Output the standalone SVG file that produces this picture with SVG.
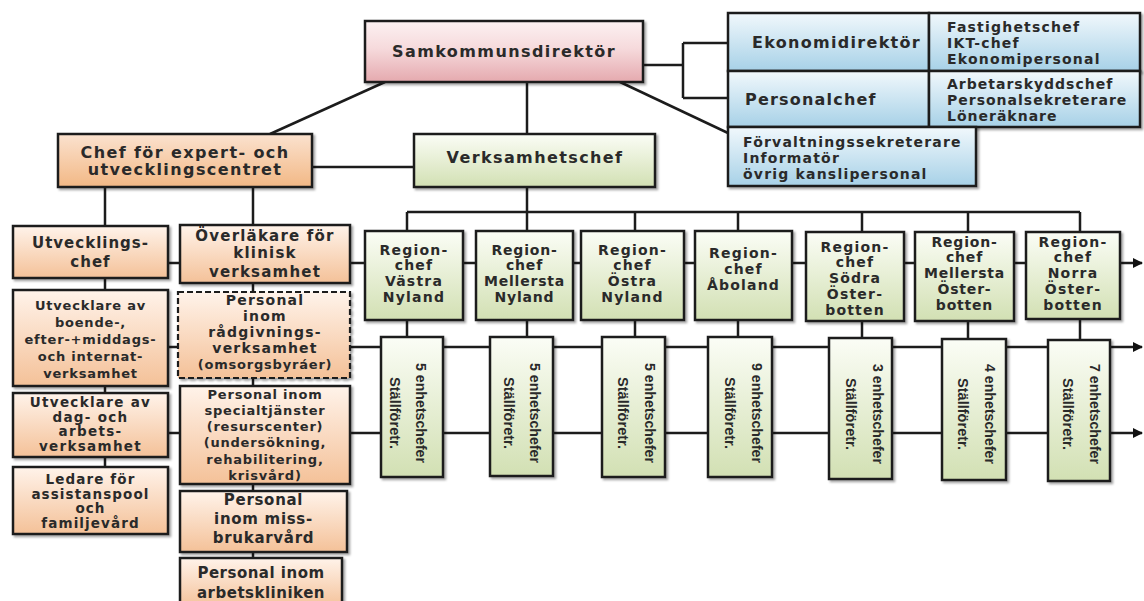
<svg xmlns="http://www.w3.org/2000/svg" width="1144" height="601" viewBox="0 0 1144 601">
<defs>
<linearGradient id="gPink" x1="0" y1="0" x2="0" y2="1"><stop offset="0" stop-color="#fcf1f2"/><stop offset="0.45" stop-color="#f6dadc"/><stop offset="1" stop-color="#e5a9ae"/></linearGradient>
<linearGradient id="gOr" x1="0" y1="0" x2="0" y2="1"><stop offset="0" stop-color="#fff3ea"/><stop offset="1" stop-color="#f4c198"/></linearGradient>
<linearGradient id="gOr2" x1="0" y1="0" x2="0" y2="1"><stop offset="0" stop-color="#fbe2cf"/><stop offset="1" stop-color="#f2b885"/></linearGradient>
<linearGradient id="gGr" x1="0" y1="0" x2="0" y2="1"><stop offset="0" stop-color="#fbfdf6"/><stop offset="1" stop-color="#d2e0b3"/></linearGradient>
<linearGradient id="gBl" x1="0" y1="0" x2="0" y2="1"><stop offset="0" stop-color="#f1f8fc"/><stop offset="1" stop-color="#a7d1e7"/></linearGradient>
<filter id="sh" x="-10%" y="-10%" width="125%" height="125%"><feDropShadow dx="2" dy="2" stdDeviation="1.2" flood-color="#000" flood-opacity="0.35"/></filter>
<marker id="arr" viewBox="0 0 10 10" refX="9" refY="5" markerWidth="10" markerHeight="10" markerUnits="userSpaceOnUse" orient="auto"><path d="M0,0 L10,5 L0,10 z" fill="#111"/></marker>
</defs>
<style>
.box{stroke:#1c1c1c;stroke-width:2.5;filter:url(#sh)}
.pink{fill:url(#gPink)}
.or{fill:url(#gOr)}
.or2{fill:url(#gOr2)}
.gr{fill:url(#gGr)}
.bl{fill:url(#gBl)}
.dash{stroke-dasharray:6 3;stroke-width:2.2}
.ln{fill:none;stroke:#1c1c1c;stroke-width:2.5}
text{font-family:"DejaVu Sans","Verdana",sans-serif;font-weight:bold;fill:#2a2a2a}
.c{text-anchor:middle}
.t16{font-size:16px;letter-spacing:1.4px}
.t15{font-size:15px;letter-spacing:1px}
.t15n{font-size:15px;letter-spacing:0.7px}
.t135{font-size:13.5px;letter-spacing:1.3px}
.t14{font-size:14px;letter-spacing:1.2px}
.t13{font-size:13px;letter-spacing:0.8px}
.rot{font-family:"Liberation Sans","Arial",sans-serif;font-size:15px;letter-spacing:0;text-anchor:middle}
</style>

<g id="connectors">
<path class="ln" d="M643,65 H683 M683,43 V98 M683,43 H728 M683,98 H728"/>
<path class="ln" d="M620,82 L728,133"/>
<path class="ln" d="M385,82 L270,134"/>
<path class="ln" d="M527,82 V337"/>
<path class="ln" d="M312,167 H414"/>
<path class="ln" d="M407,212 H1080"/>
<path class="ln" d="M407,212 V337 M635,212 V337 M738,212 V337 M862,212 V338 M968,212 V339 M1080,212 V340"/>
<path class="ln" d="M105,187 V467"/>
<path class="ln" d="M253,187 V558"/>
<path class="ln" d="M168,263 H1142" marker-end="url(#arr)"/>
<path class="ln" d="M168,347 H1142" marker-end="url(#arr)"/>
<path class="ln" d="M168,433 H1142" marker-end="url(#arr)"/>
</g>

<g id="n-samkommunsdirektor">
<rect class="box pink" x="365" y="21" width="278" height="61"/>
<text class="c t16" x="504" y="57">Samkommunsdirektör</text>
</g>

<g id="n-ekonomidirektor">
<rect class="box bl" x="728" y="13" width="201" height="58"/>
<rect class="box bl" x="929" y="13" width="211" height="58"/>
<text class="t16" x="752" y="48" style="letter-spacing:1.3px">Ekonomidirektör</text>
<text class="t14" x="947"><tspan x="947" y="32">Fastighetschef</tspan><tspan x="947" y="48">IKT-chef</tspan><tspan x="947" y="64">Ekonomipersonal</tspan></text>
</g>

<g id="n-personalchef">
<rect class="box bl" x="728" y="71" width="201" height="56"/>
<rect class="box bl" x="929" y="71" width="211" height="56"/>
<text class="t16" x="745" y="105" style="letter-spacing:1.2px">Personalchef</text>
<text class="t14" x="947" style="letter-spacing:1px"><tspan x="947" y="89">Arbetarskyddschef</tspan><tspan x="947" y="105">Personalsekreterare</tspan><tspan x="947" y="121">Löneräknare</tspan></text>
</g>

<g id="n-forvaltning">
<rect class="box bl" x="728" y="127" width="248" height="59"/>
<text class="t14" x="743"><tspan x="743" y="147">Förvaltningssekreterare</tspan><tspan x="743" y="163">Informatör</tspan><tspan x="743" y="179">övrig kanslipersonal</tspan></text>
</g>

<g id="n-chef-expert">
<rect class="box or2" x="58" y="134" width="254" height="53"/>
<text class="c t16" x="185"><tspan x="185" y="158">Chef för expert- och</tspan><tspan x="185" y="175">utvecklingscentret</tspan></text>
</g>

<g id="n-verksamhetschef">
<rect class="box gr" x="414" y="134" width="241" height="53"/>
<text class="c t16" x="535" y="163">Verksamhetschef</text>
</g>

<g id="n-utvecklingschef">
<rect class="box or" x="13" y="226" width="155" height="52"/>
<text class="c t15" x="90.5"><tspan x="90.5" y="248">Utvecklings-</tspan><tspan x="90.5" y="267">chef</tspan></text>
</g>

<g id="n-utv-boende">
<rect class="box or" x="13" y="290" width="155" height="96"/>
<text class="c t13" x="90.5"><tspan x="90.5" y="310">Utvecklare av</tspan><tspan x="90.5" y="327">boende-,</tspan><tspan x="90.5" y="344">efter-+middags-</tspan><tspan x="90.5" y="361">och internat-</tspan><tspan x="90.5" y="378">verksamhet</tspan></text>
</g>

<g id="n-utv-dag">
<rect class="box or" x="13" y="393" width="155" height="64"/>
<text class="c t135" x="90.5"><tspan x="90.5" y="407">Utvecklare av</tspan><tspan x="90.5" y="421.5">dag- och</tspan><tspan x="90.5" y="436">arbets-</tspan><tspan x="90.5" y="450.5">verksamhet</tspan></text>
</g>

<g id="n-ledare">
<rect class="box or" x="13" y="467" width="155" height="67"/>
<text class="c t135" x="90.5" style="letter-spacing:1.1px"><tspan x="90.5" y="484">Ledare för</tspan><tspan x="90.5" y="498.5">assistanspool</tspan><tspan x="90.5" y="513">och</tspan><tspan x="90.5" y="527.5">familjevård</tspan></text>
</g>

<g id="n-overlakare">
<rect class="box or" x="180" y="225" width="170" height="58"/>
<text class="c t15" x="265" style="letter-spacing:1.2px"><tspan x="265" y="241">Överläkare för</tspan><tspan x="265" y="258">klinisk</tspan><tspan x="265" y="277">verksamhet</tspan></text>
</g>

<g id="n-radgivning">
<rect class="box or dash" x="178" y="292" width="172" height="86"/>
<text class="c t14" x="265"><tspan x="265" y="305">Personal</tspan><tspan x="265" y="321">inom</tspan><tspan x="265" y="337">rådgivnings-</tspan><tspan x="265" y="353">verksamhet</tspan></text>
<text class="c t13" x="265" y="369">(omsorgsbyráer)</text>
</g>

<g id="n-specialtjanster">
<rect class="box or" x="180" y="386" width="170" height="98"/>
<text class="c t13" x="265"><tspan x="265" y="399">Personal inom</tspan><tspan x="265" y="415">specialtjänster</tspan><tspan x="265" y="431">(resurscenter)</tspan><tspan x="265" y="447">(undersökning,</tspan><tspan x="265" y="464">rehabilitering,</tspan><tspan x="265" y="480">krisvård)</tspan></text>
</g>

<g id="n-missbruk">
<rect class="box or" x="180" y="491" width="167" height="61"/>
<text class="c t15n" x="263.5"><tspan x="263.5" y="505">Personal</tspan><tspan x="263.5" y="524">inom miss-</tspan><tspan x="263.5" y="543">brukarvård</tspan></text>
</g>

<g id="n-arbetsklinik">
<rect class="box or" x="180" y="558" width="162" height="50"/>
<text class="c t15n" x="261" style="letter-spacing:0.5px"><tspan x="261" y="578">Personal inom</tspan><tspan x="261" y="598">arbetskliniken</tspan></text>
</g>

<g id="n-region-vastra-nyland">
<rect class="box gr" x="365" y="231" width="98" height="89"/>
<text class="c t14" x="414"><tspan x="414" y="255">Region-</tspan><tspan x="414" y="270">chef</tspan><tspan x="414" y="286">Västra</tspan><tspan x="414" y="302">Nyland</tspan></text>
</g>
<g id="n-region-mellersta-nyland">
<rect class="box gr" x="476" y="231" width="97" height="89"/>
<text class="c t14" x="524.5" style="letter-spacing:0.8px"><tspan x="524.5" y="255">Region-</tspan><tspan x="524.5" y="270">chef</tspan><tspan x="524.5" y="286">Mellersta</tspan><tspan x="524.5" y="302">Nyland</tspan></text>
</g>
<g id="n-region-ostra-nyland">
<rect class="box gr" x="581" y="231" width="103" height="89"/>
<text class="c t14" x="632.5"><tspan x="632.5" y="255">Region-</tspan><tspan x="632.5" y="270">chef</tspan><tspan x="632.5" y="286">Östra</tspan><tspan x="632.5" y="302">Nyland</tspan></text>
</g>
<g id="n-region-aboland">
<rect class="box gr" x="695" y="231" width="97" height="89"/>
<text class="c t14" x="743.5"><tspan x="743.5" y="258">Region-</tspan><tspan x="743.5" y="274">chef</tspan><tspan x="743.5" y="290">Åboland</tspan></text>
</g>
<g id="n-region-sodra-osterbotten">
<rect class="box gr" x="806" y="232" width="98" height="89"/>
<text class="c t14" x="855"><tspan x="855" y="252">Region-</tspan><tspan x="855" y="267">chef</tspan><tspan x="855" y="283">Södra</tspan><tspan x="855" y="299">Öster-</tspan><tspan x="855" y="315">botten</tspan></text>
</g>
<g id="n-region-mellersta-osterbotten">
<rect class="box gr" x="915" y="232" width="99" height="89"/>
<text class="c t14" x="964.5" style="letter-spacing:0.8px"><tspan x="964.5" y="247">Region-</tspan><tspan x="964.5" y="262">chef</tspan><tspan x="964.5" y="278">Mellersta</tspan><tspan x="964.5" y="294">Öster-</tspan><tspan x="964.5" y="310">botten</tspan></text>
</g>
<g id="n-region-norra-osterbotten">
<rect class="box gr" x="1026" y="232" width="94" height="87"/>
<text class="c t14" x="1073"><tspan x="1073" y="247">Region-</tspan><tspan x="1073" y="262">chef</tspan><tspan x="1073" y="278">Norra</tspan><tspan x="1073" y="294">Öster-</tspan><tspan x="1073" y="310">botten</tspan></text>
</g>

<g id="n-enhet-1">
<rect class="box gr" x="381" y="337" width="62" height="140"/>
<text class="rot" transform="translate(412,413) rotate(90)"><tspan x="0" y="-4" textLength="100" lengthAdjust="spacingAndGlyphs">5 enhetschefer</tspan><tspan x="0" y="22" textLength="72" lengthAdjust="spacingAndGlyphs">Ställföretr.</tspan></text>
</g>
<g id="n-enhet-2">
<rect class="box gr" x="490" y="337" width="63" height="139"/>
<text class="rot" transform="translate(521.5,413) rotate(90)"><tspan x="0" y="-8" textLength="100" lengthAdjust="spacingAndGlyphs">5 enhetschefer</tspan><tspan x="0" y="18" textLength="72" lengthAdjust="spacingAndGlyphs">Ställföretr.</tspan></text>
</g>
<g id="n-enhet-3">
<rect class="box gr" x="602" y="337" width="63" height="140"/>
<text class="rot" transform="translate(633.5,413) rotate(90)"><tspan x="0" y="-11.5" textLength="100" lengthAdjust="spacingAndGlyphs">5 enhetschefer</tspan><tspan x="0" y="15.5" textLength="72" lengthAdjust="spacingAndGlyphs">Ställföretr.</tspan></text>
</g>
<g id="n-enhet-4">
<rect class="box gr" x="708" y="337" width="64" height="140"/>
<text class="rot" transform="translate(740,413) rotate(90)"><tspan x="0" y="-12" textLength="100" lengthAdjust="spacingAndGlyphs">9 enhetschefer</tspan><tspan x="0" y="15" textLength="72" lengthAdjust="spacingAndGlyphs">Ställföretr.</tspan></text>
</g>
<g id="n-enhet-5">
<rect class="box gr" x="829" y="338" width="63" height="141"/>
<text class="rot" transform="translate(860.5,414) rotate(90)"><tspan x="0" y="-12.5" textLength="100" lengthAdjust="spacingAndGlyphs">3 enhetschefer</tspan><tspan x="0" y="14.5" textLength="72" lengthAdjust="spacingAndGlyphs">Ställföretr.</tspan></text>
</g>
<g id="n-enhet-6">
<rect class="box gr" x="942" y="339" width="64" height="141"/>
<text class="rot" transform="translate(974,414) rotate(90)"><tspan x="0" y="-11" textLength="100" lengthAdjust="spacingAndGlyphs">4 enhetschefer</tspan><tspan x="0" y="16" textLength="72" lengthAdjust="spacingAndGlyphs">Ställföretr.</tspan></text>
</g>
<g id="n-enhet-7">
<rect class="box gr" x="1048" y="340" width="62" height="141"/>
<text class="rot" transform="translate(1079,414) rotate(90)"><tspan x="0" y="-11" textLength="100" lengthAdjust="spacingAndGlyphs">7 enhetschefer</tspan><tspan x="0" y="16" textLength="72" lengthAdjust="spacingAndGlyphs">Ställföretr.</tspan></text>
</g>
</svg>
